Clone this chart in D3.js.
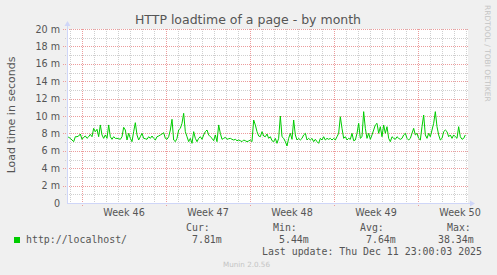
<!DOCTYPE html>
<html>
<head>
<meta charset="utf-8">
<script src="https://cdn.jsdelivr.net/npm/d3@7"></script>
<style>
  body { margin: 0; background: #f0f0f0; }
  svg { display: block; }
  text { fill: #555; }
</style>
</head>
<body>
<script>

// chart data
var title = "HTTP loadtime of a page - by month";
var yTitle = "Load time in seconds";
var yTicks = [0, 2, 4, 6, 8, 10, 12, 14, 16, 18, 20];
var yTickLabels = ["0", "2 m", "4 m", "6 m", "8 m", "10 m", "12 m", "14 m", "16 m", "18 m", "20 m"];
var weekStarts = ["2025-11-10", "2025-11-17", "2025-11-24", "2025-12-01", "2025-12-08"];
var weekLabels = ["Week 46", "Week 47", "Week 48", "Week 49", "Week 50"];
var rangeStart = "2025-11-08T18:00:00Z";
var rangeEnd = "2025-12-12T04:00:00Z";
var stepHours = 10 / 3;   // sample spacing of the values below

// load time in ms
var loadtime = [
  7.62, 7.55, 7.43, 7.24, 7.05, 7.62, 7.62, 7.70, 7.93, 7.32,
  7.55, 7.70, 7.43, 7.62, 7.89, 7.62, 8.58, 8.20, 8.47, 7.62,
  8.97, 7.82, 7.43, 7.82, 7.43, 8.97, 7.62, 7.32, 7.62, 7.43,
  7.43, 7.39, 7.32, 7.62, 8.70, 8.39, 7.24, 8.01, 7.43, 7.05,
  8.20, 9.23, 7.82, 7.24, 7.62, 8.01, 7.43, 7.39, 7.32, 7.62,
  7.43, 7.70, 7.43, 7.24, 7.62, 7.70, 7.82, 7.93, 8.08, 7.43,
  7.32, 7.62, 8.39, 9.62, 7.24, 7.05, 7.43, 8.39, 8.58, 9.16,
  10.31, 8.20, 7.62, 7.05, 7.43, 6.86, 8.20, 7.43, 7.05, 7.43,
  7.62, 7.32, 7.82, 8.20, 8.39, 7.82, 7.62, 7.43, 7.16, 7.82,
  7.05, 8.97, 8.01, 7.32, 7.43, 7.55, 7.32, 7.39, 7.43, 7.32,
  7.24, 7.32, 7.16, 7.24, 7.16, 7.05, 7.24, 7.16, 7.05, 7.13,
  7.24, 7.05, 9.54, 8.97, 8.20, 7.70, 7.62, 8.20, 7.70, 7.62,
  7.93, 7.43, 7.62, 7.16, 7.05, 7.43, 6.86, 7.43, 10.00, 7.62,
  7.43, 7.05, 6.55, 7.43, 8.01, 7.32, 9.54, 7.82, 7.24, 7.43,
  7.24, 7.43, 7.82, 8.01, 7.24, 7.43, 7.24, 7.43, 7.05, 7.32,
  7.05, 6.86, 7.43, 7.24, 7.62, 7.24, 7.43, 7.32, 7.43, 7.24,
  7.43, 7.24, 7.62, 8.01, 9.92, 8.58, 7.43, 7.62, 7.24, 7.43,
  7.32, 8.01, 7.16, 7.24, 8.01, 9.16, 7.43, 7.62, 10.50, 8.58,
  7.43, 8.01, 7.32, 7.82, 8.39, 8.97, 9.16, 8.01, 8.77, 7.62,
  8.97, 8.01, 8.77, 7.43, 7.05, 7.62, 7.43, 7.32, 7.62, 7.43,
  7.32, 7.43, 7.82, 8.01, 7.43, 7.24, 7.43, 8.01, 8.58, 7.82,
  8.01, 7.43, 7.24, 8.77, 10.11, 7.82, 7.43, 8.01, 7.62, 8.39,
  9.16, 10.50, 8.77, 7.82, 7.24, 7.43, 8.20, 8.39, 8.20, 7.62,
  7.82, 7.43, 7.82, 7.62, 7.43, 8.77, 7.62, 7.32, 7.43, 7.82
];

var seriesName = "http://localhost/";
var legendCols = [
  {head: "Cur:", value: "7.81m", hx: 186, vx: 192},
  {head: "Min:", value: "5.44m", hx: 273, vx: 279},
  {head: "Avg:", value: "7.64m", hx: 360, vx: 366},
  {head: "Max:", value: "38.34m", hx: 447, vx: 438}
];
var lastUpdate = "Last update: Thu Dec 11 23:00:03 2025";

var W = 497, H = 275;
var plot = {left: 67, right: 468, top: 29, bottom: 203};
var lineColor = "#00cc00";
var mgrid = "#ec9c9c", grid = "#cfcfcf", axisColor = "#cfd6f8";

var t0 = new Date(rangeStart), t1 = new Date(rangeEnd);
var x = d3.scaleTime().domain([t0, t1]).range([plot.left, plot.right]);
var y = d3.scaleLinear().domain([0, 20]).range([plot.bottom, plot.top]);

var data = loadtime.map(function(v, i) {
  return {t: new Date(t0.getTime() + i * stepHours * 3600e3), v: v};
});

var svg = d3.select("body").append("svg")
    .attr("width", W)
    .attr("height", H);

svg.append("rect").attr("width", W).attr("height", H).attr("fill", "#f0f0f0");
svg.append("rect")
    .attr("x", plot.left).attr("y", plot.top)
    .attr("width", plot.right - plot.left).attr("height", plot.bottom - plot.top)
    .attr("fill", "#fff");

// minor grid: every day / every 1 m
var days = d3.utcDay.range(t0, t1);
svg.append("g").selectAll("line")
    .data(days)
  .enter().append("line")
    .attr("x1", function(d) { return Math.round(x(d)) + 0.5; })
    .attr("x2", function(d) { return Math.round(x(d)) + 0.5; })
    .attr("y1", plot.top).attr("y2", plot.bottom + 2)
    .attr("stroke", grid).attr("stroke-dasharray", "1,1");

svg.append("g").selectAll("line")
    .data(d3.range(1, 20, 2))
  .enter().append("line")
    .attr("x1", plot.left - 2).attr("x2", plot.right)
    .attr("y1", function(d) { return Math.round(y(d)) + 0.5; })
    .attr("y2", function(d) { return Math.round(y(d)) + 0.5; })
    .attr("stroke", grid).attr("stroke-dasharray", "1,1");

// major grid: weeks / every 2 m
var weeks = weekStarts.map(function(s) { return new Date(s + "T00:00:00Z"); });
svg.append("g").selectAll("line")
    .data(weeks)
  .enter().append("line")
    .attr("x1", function(d) { return Math.round(x(d)) + 0.5; })
    .attr("x2", function(d) { return Math.round(x(d)) + 0.5; })
    .attr("y1", plot.top).attr("y2", plot.bottom + 3)
    .attr("stroke", mgrid).attr("stroke-dasharray", "1,1");

svg.append("g").selectAll("line")
    .data(yTicks.slice(1))
  .enter().append("line")
    .attr("x1", plot.left - 4).attr("x2", plot.right)
    .attr("y1", function(d) { return Math.round(y(d)) + 0.5; })
    .attr("y2", function(d) { return Math.round(y(d)) + 0.5; })
    .attr("stroke", mgrid).attr("stroke-dasharray", "1,1");

// the series
var line = d3.line()
    .x(function(d) { return x(d.t); })
    .y(function(d) { return y(d.v); });

svg.append("path")
    .datum(data)
    .attr("d", line)
    .attr("fill", "none")
    .attr("stroke", lineColor)
    .attr("stroke-width", 1);

// axes with arrows
svg.append("line")
    .attr("x1", plot.left + 0.5).attr("x2", plot.left + 0.5)
    .attr("y1", plot.bottom).attr("y2", plot.top - 4)
    .attr("stroke", axisColor);
svg.append("path")
    .attr("d", "M" + (plot.left - 2.5) + "," + (plot.top - 3) + "L" + (plot.left + 0.5) + "," + (plot.top - 8) + "L" + (plot.left + 3.5) + "," + (plot.top - 3) + "Z")
    .attr("fill", axisColor);
svg.append("line")
    .attr("x1", plot.left).attr("x2", plot.right + 3)
    .attr("y1", plot.bottom + 0.5).attr("y2", plot.bottom + 0.5)
    .attr("stroke", axisColor);
svg.append("path")
    .attr("d", "M" + (plot.right + 2) + "," + (plot.bottom - 2.5) + "L" + (plot.right + 7) + "," + (plot.bottom + 0.5) + "L" + (plot.right + 2) + "," + (plot.bottom + 3.5) + "Z")
    .attr("fill", axisColor);

// tick labels
svg.append("g").selectAll("text")
    .data(yTicks)
  .enter().append("text")
    .attr("x", plot.left - 7)
    .attr("y", function(d) { return y(d) + 3.5; })
    .attr("text-anchor", "end")
    .style("font", "9.6px 'DejaVu Sans'")
    .text(function(d, i) { return yTickLabels[i]; });

svg.append("g").selectAll("text")
    .data(weeks)
  .enter().append("text")
    .attr("x", function(d) { return x(d3.utcHour.offset(d, 84)); })
    .attr("y", 216)
    .attr("text-anchor", "middle")
    .style("font", "9.6px 'DejaVu Sans'")
    .text(function(d, i) { return weekLabels[i]; });

// titles
svg.append("text")
    .attr("x", 248).attr("y", 23.5)
    .attr("text-anchor", "middle")
    .style("font", "12.5px 'DejaVu Sans'")
    .text(title);

svg.append("text")
    .attr("transform", "translate(14.5,115) rotate(-90)")
    .attr("text-anchor", "middle")
    .style("font", "11px 'DejaVu Sans'")
    .text(yTitle);

svg.append("text")
    .attr("transform", "translate(485,5) rotate(90)")
    .attr("text-anchor", "start")
    .style("font", "7.5px 'DejaVu Sans'")
    .style("fill", "#c4c4c4")
    .text("RRDTOOL / TOBI OETIKER");

// legend
var mono = "9.9px 'DejaVu Sans Mono'";
svg.append("rect")
    .attr("x", 14).attr("y", 237).attr("width", 6).attr("height", 6)
    .attr("fill", lineColor);
svg.append("text")
    .attr("x", 26).attr("y", 242.5)
    .style("font", mono)
    .text(seriesName);

var cols = svg.append("g").selectAll("g")
    .data(legendCols)
  .enter().append("g");
cols.append("text")
    .attr("x", function(d) { return d.hx; })
    .attr("y", 231)
    .style("font", mono)
    .text(function(d) { return d.head; });
cols.append("text")
    .attr("x", function(d) { return d.vx; })
    .attr("y", 242.5)
    .style("font", mono)
    .text(function(d) { return d.value; });

svg.append("text")
    .attr("x", 262).attr("y", 254.5)
    .style("font", mono)
    .text(lastUpdate);

svg.append("text")
    .attr("x", 223).attr("y", 267)
    .style("font", "7.2px 'DejaVu Sans'")
    .style("fill", "#c4c4c4")
    .text("Munin 2.0.56");

</script>
</body>
</html>
